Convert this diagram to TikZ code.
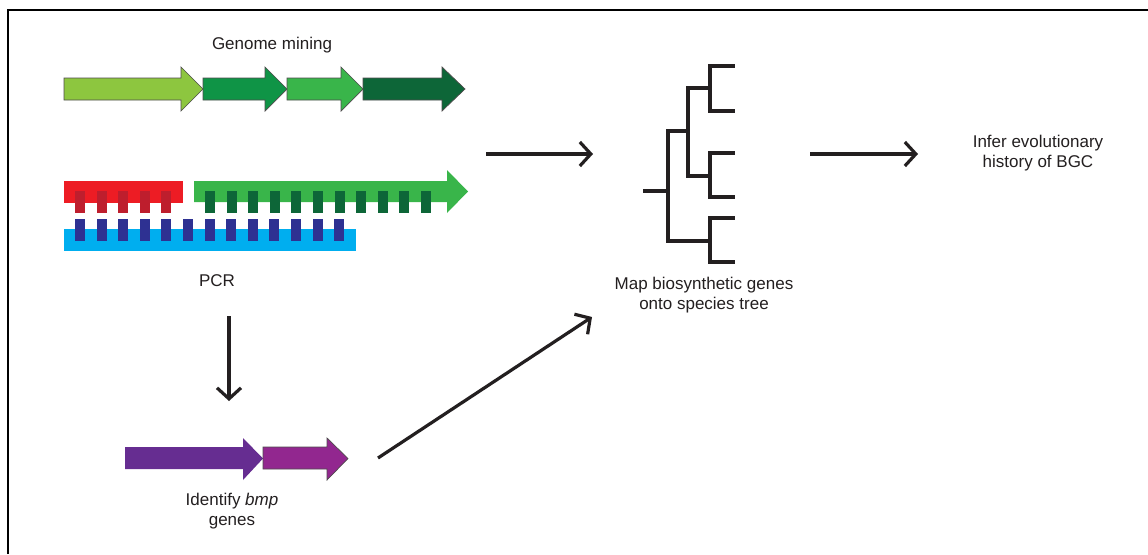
\documentclass[tikz,border=0pt]{standalone}
\usepackage{fontspec}
\setmainfont{Liberation Sans}
\usetikzlibrary{arrows.meta}
\definecolor{lgreen}{HTML}{8DC63F}
\definecolor{mgreen}{HTML}{0F9446}
\definecolor{bgreen}{HTML}{39B54A}
\definecolor{dgreen}{HTML}{0D6638}
\definecolor{pred}{HTML}{ED1C24}
\definecolor{dred}{HTML}{BE1E2D}
\definecolor{pblue}{HTML}{2E3192}
\definecolor{pcyan}{HTML}{00AEEF}
\definecolor{purp}{HTML}{662D91}
\definecolor{mag}{HTML}{92278F}
\definecolor{txt}{HTML}{231F20}
\tikzset{
  lbl/.style={font=\fontsize{17}{20}\selectfont, text=txt, align=center, inner sep=0pt},
  flow/.style={line width=3.2pt, draw=txt, -{Straight Barb[length=11pt,width=24pt,line width=3.2pt]}},
  gene/.style={draw=txt!80, line width=0.7pt},
  tooth/.style={inner sep=0pt, minimum width=10pt, minimum height=22pt},
  branch/.style={line width=3.8pt, draw=txt, line cap=rect},
  frame/.style={line width=2.4pt, draw=black}
}
\begin{document}
\begin{tikzpicture}[x=1pt,y=-1pt]
\useasboundingbox (0,0) rectangle (1148,554);
\fill[white] (0,0) rectangle (1148,554);
\draw[frame] (8,554) -- (8,10) -- (1148,10);

% Genome mining
\node[lbl] (gm) at (272,45) {Genome mining};
\filldraw[gene, fill=lgreen] (64,78) -- (181,78) -- (181,67) -- (203,89) -- (181,111) -- (181,100) -- (64,100) -- cycle;
\filldraw[gene, fill=mgreen] (203,78) -- (265,78) -- (265,67) -- (287,89) -- (265,111) -- (265,100) -- (203,100) -- cycle;
\filldraw[gene, fill=bgreen] (287,78) -- (341,78) -- (341,67) -- (363,89) -- (341,111) -- (341,100) -- (287,100) -- cycle;
\filldraw[gene, fill=dgreen] (363,78) -- (442,78) -- (442,67) -- (465,89) -- (442,111) -- (442,100) -- (363,100) -- cycle;

% PCR
\fill[pred] (64,181) rectangle (183,203);
\fill[bgreen] (194,181) -- (447,181) -- (447,170) -- (468,191.5) -- (447,213) -- (447,202) -- (194,202) -- cycle;
\fill[pcyan] (64,229) rectangle (356,251);
\foreach \i in {0,...,10} \node[tooth, fill=dgreen] (dg\i) at ({210+21.6*\i},202) {};
\foreach \i in {0,...,4} \node[tooth, fill=dred] (dr\i) at ({80+21.6*\i},202) {};
\foreach \i in {0,...,12} \node[tooth, fill=pblue] (bl\i) at ({80+21.6*\i},230) {};
\node[lbl] (pcr) at (217,281) {PCR};

% Identify bmp
\fill[purp] (125,447) -- (243,447) -- (243,438) -- (263,458.5) -- (243,480) -- (243,469) -- (125,469) -- cycle;
\filldraw[gene, fill=mag] (263,447) -- (327,447) -- (327,438) -- (348,458.5) -- (327,480) -- (327,469) -- (263,469) -- cycle;
\node[lbl] (bmp) at (232,511) {Identify \textit{bmp}\\genes};

% Tree
\draw[branch] (645,191) -- (668,191);
\draw[branch] (688,131) -- (668,131) -- (668,241) -- (710,241);
\draw[branch] (710,88) -- (688,88) -- (688,176) -- (710,176);
\draw[branch] (733,66) -- (710,66) -- (710,111) -- (733,111);
\draw[branch] (733,153) -- (710,153) -- (710,197) -- (733,197);
\draw[branch] (733,218) -- (710,218) -- (710,262) -- (733,262);
\node[lbl] (map) at (704,295) {Map biosynthetic genes\\onto species tree};

\node[lbl] (infer) at (1038,153) {Infer evolutionary\\history of BGC};

% Flow arrows
\coordinate (a1s) at (486,154); \coordinate (a1e) at (593,154);
\coordinate (a2s) at (810,154); \coordinate (a2e) at (918,154);
\coordinate (a3s) at (229,316); \coordinate (a3e) at (229,401);
\coordinate (a4s) at (378,458); \coordinate (a4e) at (592,317);
\draw[flow] (a1s) -- (a1e);
\draw[flow] (a2s) -- (a2e);
\draw[flow] (a3s) -- (a3e);
\draw[flow] (a4s) -- (a4e);
\end{tikzpicture}
\end{document}
